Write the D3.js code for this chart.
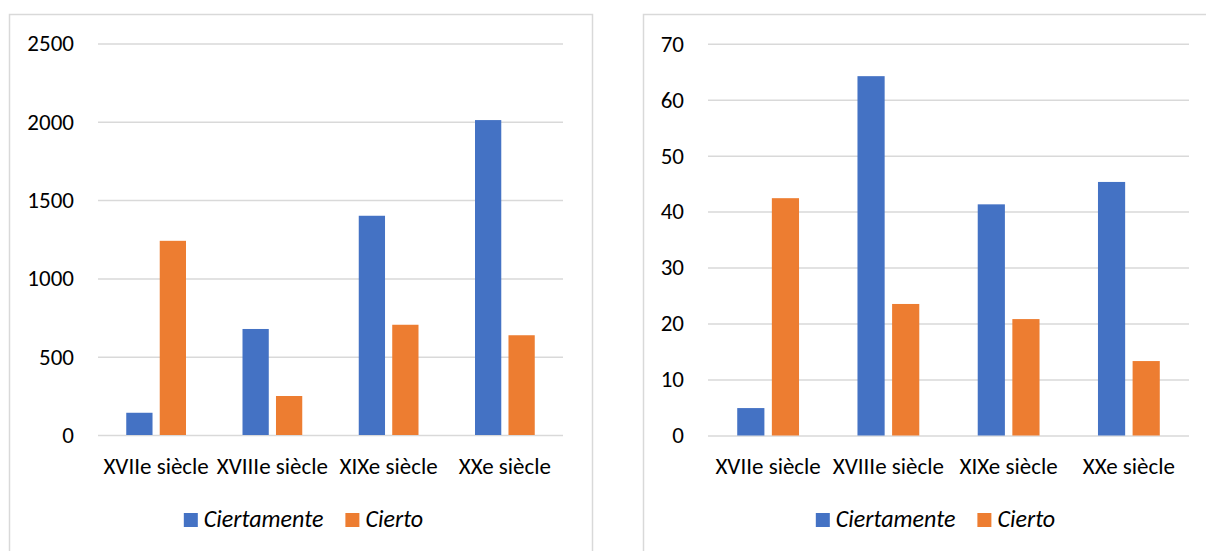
<!DOCTYPE html>
<html>
<head>
<meta charset="utf-8">
<script src="https://cdn.jsdelivr.net/npm/d3@7"></script>
<style>
  html, body { margin: 0; padding: 0; background: #fff; }
  svg { display: block; }
  text { font-family: Carlito, Calibri, Lato, "Noto Sans", sans-serif; fill: #000; }
</style>
</head>
<body>
<svg id="chart" width="1206" height="551"></svg>
<script>
// Categories shared by both panels
const categories = ["XVIIe siècle", "XVIIIe siècle", "XIXe siècle", "XXe siècle"];
const seriesNames = ["Ciertamente", "Cierto"];
const seriesColors = ["#4472C4", "#ED7D31"];

// Panel 1: raw counts
const countsCiertamente = [142, 677, 1400, 2011];
const countsCierto = [1240, 249, 704, 637];
const countTicks = [0, 500, 1000, 1500, 2000, 2500];

// Panel 2: relative figures
const relCiertamente = [4.9, 64.2, 41.3, 45.3];
const relCierto = [42.4, 23.5, 20.8, 13.3];
const relTicks = [0, 10, 20, 30, 40, 50, 60, 70];

const svg = d3.select("#chart");
svg.append("rect").attr("width", 1206).attr("height", 551).attr("fill", "#fff");

const TICK_FONT = 23;
const CAT_FONT = 23;
const LEGEND_FONT = 24;

function drawPanel(opts) {
  const { frame, plot, series, ticks } = opts;
  const g = svg.append("g");

  // chart frame
  g.append("rect")
    .attr("x", frame.x + 0.5).attr("y", frame.y + 0.5)
    .attr("width", frame.w).attr("height", frame.h)
    .attr("fill", "#fff").attr("stroke", "#d9d9d9").attr("stroke-width", 1.5);

  const x = d3.scaleBand().domain(categories).range([plot.x0, plot.x1]).padding(0);
  const y = d3.scaleLinear().domain([0, d3.max(ticks)]).range([plot.y0, plot.y1]);

  // gridlines + tick labels
  const axis = d3.axisLeft(y)
    .tickValues(ticks)
    .tickSize(-(plot.x1 - plot.x0))
    .tickPadding(24)
    .tickFormat(d3.format("d"));
  const ag = g.append("g").attr("transform", `translate(${plot.x0},0)`).call(axis);
  ag.select(".domain").remove();
  ag.selectAll(".tick line").attr("stroke", "#d9d9d9").attr("stroke-width", 1.5);
  ag.selectAll(".tick text")
    .attr("font-size", TICK_FONT).attr("fill", "#000")
    .style("font-family", "Carlito, Calibri, Lato, 'Noto Sans', sans-serif");

  // grouped bars
  const bw = x.bandwidth() * 0.226;
  const gap = x.bandwidth() * 0.062;
  series.forEach((vals, si) => {
    g.append("g").selectAll("rect")
      .data(vals)
      .join("rect")
      .attr("x", (d, i) => x(categories[i]) + x.bandwidth() / 2 - bw - gap / 2 + si * (bw + gap))
      .attr("y", d => y(d))
      .attr("width", bw)
      .attr("height", d => y(0) - y(d))
      .attr("fill", seriesColors[si]);
  });

  // category labels
  g.append("g").selectAll("text")
    .data(categories)
    .join("text")
    .attr("x", d => x(d) + x.bandwidth() / 2)
    .attr("y", 474)
    .attr("text-anchor", "middle")
    .attr("font-size", CAT_FONT)
    .text(d => d);

  // legend, centred under the frame
  const lg = g.append("g");
  const items = seriesNames.map((name, i) => {
    const it = lg.append("g");
    it.append("rect").attr("width", 14).attr("height", 14).attr("y", 513).attr("fill", seriesColors[i]);
    const t = it.append("text").attr("x", 20).attr("y", 527)
      .attr("font-size", LEGEND_FONT).attr("font-style", "italic").text(name);
    return { it, w: 20 + t.node().getComputedTextLength() };
  });
  const spacing = 22;
  const total = d3.sum(items, d => d.w) + spacing * (items.length - 1);
  let cx = opts.legendCenter - total / 2;
  items.forEach(d => {
    d.it.attr("transform", `translate(${cx},0)`);
    cx += d.w + spacing;
  });
}

drawPanel({
  frame: { x: 9, y: 14, w: 583, h: 560 },
  plot: { x0: 98, x1: 563, y0: 435, y1: 43.5 },
  series: [countsCiertamente, countsCierto],
  ticks: countTicks,
  legendCenter: 303.5
});

drawPanel({
  frame: { x: 643, y: 14, w: 583, h: 560 },
  plot: { x0: 708, x1: 1189, y0: 435.5, y1: 43.7 },
  series: [relCiertamente, relCierto],
  ticks: relTicks,
  legendCenter: 935.5
});
</script>
</body>
</html>
